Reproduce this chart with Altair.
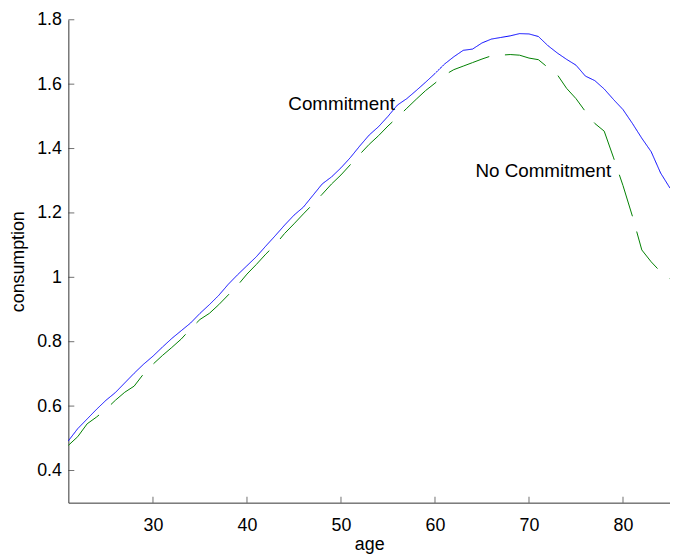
import altair as alt
import pandas as pd

ages = list(range(21, 86))
commitment = [
    0.492, 0.530, 0.560, 0.590, 0.618, 0.642, 0.672, 0.702, 0.730, 0.755,
    0.783, 0.810, 0.834, 0.858, 0.888, 0.915, 0.944, 0.978, 1.008, 1.036,
    1.064, 1.097, 1.129, 1.162, 1.193, 1.218, 1.254, 1.290, 1.312, 1.340,
    1.372, 1.408, 1.442, 1.468, 1.500, 1.535, 1.555, 1.580, 1.606, 1.633,
    1.662, 1.685, 1.705, 1.709, 1.728, 1.740, 1.745, 1.750, 1.757, 1.756,
    1.748, 1.720, 1.697, 1.677, 1.659, 1.625, 1.611, 1.585, 1.552, 1.521,
    1.478, 1.432, 1.390, 1.324, 1.277,
]
no_commitment = [
    0.478, 0.505, 0.545, 0.566, 0.590, 0.618, 0.643, 0.662, 0.700, 0.730,
    0.757, 0.782, 0.808, 0.840, 0.869, 0.888, 0.915, 0.945, 0.975, 1.010,
    1.040, 1.072, 1.101, 1.136, 1.166, 1.197, 1.227, 1.258, 1.290, 1.318,
    1.350, 1.382, 1.413, 1.440, 1.470, 1.497, 1.525, 1.553, 1.580, 1.603,
    1.628, 1.645, 1.656, 1.667, 1.678, 1.688, 1.690, 1.692, 1.690, 1.681,
    1.676, 1.652, 1.630, 1.587, 1.555, 1.515, 1.478, 1.454, 1.371, 1.285,
    1.190, 1.085, 1.048, 1.017, 0.995,
]
series_names = ["Commitment", "No Commitment"]
series_colors = ["#0000ff", "#008000"]
x_ticks = [30, 40, 50, 60, 70, 80]
y_ticks = [0.4, 0.6, 0.8, 1.0, 1.2, 1.4, 1.6, 1.8]
label_text = ["Commitment", "No Commitment"]
label_age = [44.4, 64.3]
label_value = [1.537, 1.331]

W, H = 608, 488
FONT = "Liberation Sans"
FS = 18
AXIS_COLOR = "#333333"

df = pd.DataFrame({
    "age": ages * 2,
    "consumption": commitment + no_commitment,
    "series": [series_names[0]] * len(ages) + [series_names[1]] * len(ages),
})
labels_df = pd.DataFrame({"age": label_age, "consumption": label_value, "text": label_text})
xt_df = pd.DataFrame({"age": x_ticks})
yt_df = pd.DataFrame({"consumption": y_ticks})

x_scale = alt.Scale(domain=[21, 85], nice=False, zero=False)
y_scale = alt.Scale(domain=[0.3, 1.8], nice=False, zero=False)

x_axis = alt.Axis(values=x_ticks, title="age", grid=False, tickSize=0, labelPadding=14,
                  labelFontSize=FS, titleFontSize=FS, labelFont=FONT, titleFont=FONT,
                  titleFontWeight="normal", domainColor=AXIS_COLOR, labelColor="#000000",
                  titleColor="#000000", titlePadding=1)
y_axis = alt.Axis(values=y_ticks, title="consumption", format=".1~f", grid=False, tickSize=0,
                  labelPadding=7, labelFontSize=FS, titleFontSize=FS, labelFont=FONT,
                  titleFont=FONT, titleFontWeight="normal", domainColor=AXIS_COLOR,
                  labelColor="#000000", titleColor="#000000", titlePadding=9)

lines = alt.Chart(df).mark_line(strokeWidth=1).encode(
    x=alt.X("age:Q", scale=x_scale, axis=x_axis),
    y=alt.Y("consumption:Q", scale=y_scale, axis=y_axis),
    color=alt.Color("series:N", scale=alt.Scale(domain=series_names, range=series_colors), legend=None),
    strokeDash=alt.StrokeDash("series:N", scale=alt.Scale(domain=series_names, range=[[1, 0], [44, 16]]), legend=None),
    order=alt.Order("age:Q"),
)

texts = alt.Chart(labels_df).mark_text(align="left", baseline="middle", font=FONT, fontSize=19, color="#000000").encode(
    x=alt.X("age:Q", scale=x_scale),
    y=alt.Y("consumption:Q", scale=y_scale),
    text="text:N",
)

xticks = alt.Chart(xt_df).mark_tick(orient="vertical", size=6, thickness=1, color=AXIS_COLOR).encode(
    x=alt.X("age:Q", scale=x_scale),
    y=alt.value(H - 3),
)
yticks = alt.Chart(yt_df).mark_tick(orient="horizontal", size=6, thickness=1, color=AXIS_COLOR).encode(
    y=alt.Y("consumption:Q", scale=y_scale),
    x=alt.value(3),
)

chart = alt.layer(lines, texts, xticks, yticks).properties(
    width=W, height=H,
    autosize=alt.AutoSizeParams(type="none"),
    padding={"left": 61, "top": 9, "right": 0, "bottom": 50},
    background="white",
).configure_view(stroke=None)

chart.save("out.html", embed_options={"renderer": "svg", "actions": False})
